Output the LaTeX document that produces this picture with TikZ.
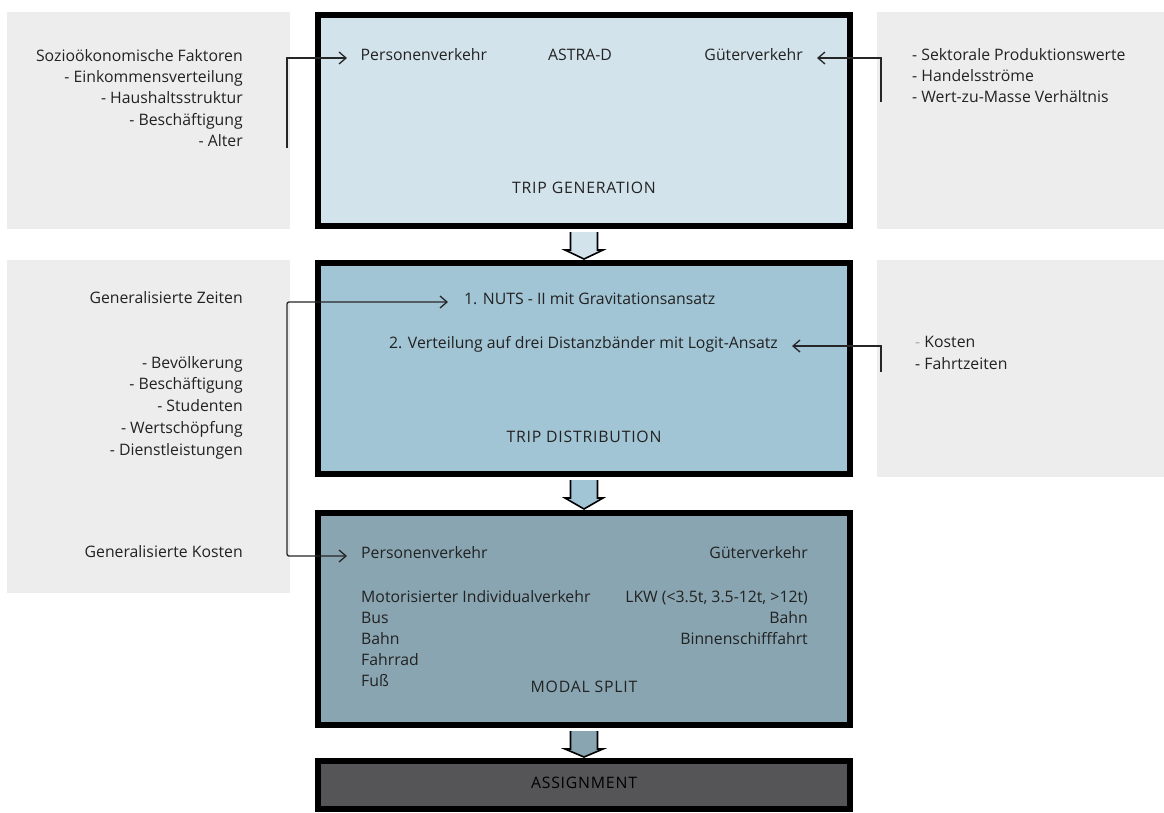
\documentclass[tikz,border=0pt]{standalone}
\usepackage{fontspec}
\setmainfont{Open Sans}
\usetikzlibrary{arrows.meta,calc}
\definecolor{cA}{HTML}{D3E3EB}
\definecolor{cB}{HTML}{A2C5D5}
\definecolor{cC}{HTML}{88A5B1}
\definecolor{cD}{HTML}{555558}
\definecolor{gr}{HTML}{EDEDED}
\definecolor{tx}{HTML}{222222}
\begin{document}
\begin{tikzpicture}[x=1pt,y=-1pt,
  txt/.style={inner sep=0pt, text=tx, font=\fontsize{15.8}{18}\selectfont},
  ttl/.style={inner sep=0pt, text=tx, font=\fontsize{15.8}{18}\selectfont\addfontfeature{LetterSpace=5}},
  graybox/.style={fill=gr, draw=none, inner sep=0pt},
  mainbox/.style={draw=black, line width=6pt, inner sep=0pt, minimum width=532pt},
  conn/.style={draw=black!85, line width=1.3pt},
  tip/.style={arrows={-Straight Barb[length=7pt,width=12pt]}},
  blockarrow/.style={draw=black, line width=1.6pt, line join=miter}]
\useasboundingbox (0,0) rectangle (1164,812);
\fill[white] (0,0) rectangle (1164,812);

% gray side panels
\node[graybox, minimum width=283pt, minimum height=217pt] (gL1) at (148.5,120.5) {};
\node[graybox, minimum width=287pt, minimum height=217pt] (gR1) at (1020.5,120.5) {};
\node[graybox, minimum width=283pt, minimum height=333pt] (gL2) at (148.5,426.5) {};
\node[graybox, minimum width=287pt, minimum height=217pt] (gR2) at (1020.5,368.5) {};

% main boxes
\node[mainbox, fill=cA, minimum height=211pt] (b1) at (584,120.5) {};
\node[mainbox, fill=cB, minimum height=211pt] (b2) at (584,368.5) {};
\node[mainbox, fill=cC, minimum height=212pt] (b3) at (584,619) {};
\node[mainbox, fill=cD, minimum height=48pt] (b4) at (584,785) {};

% block arrows
\foreach \a/\b/\c in {b1/b2/cA, b2/b3/cB, b3/b4/cC}{
  \filldraw[blockarrow, fill=\c]
    ($(\a.south)+(-13.5,3)$) -- ($(\a.south)+(-13.5,21)$) -- ($(\a.south)+(-19,21)$)
    -- ($(\b.north)+(0,-1)$) -- ($(\a.south)+(19,21)$) -- ($(\a.south)+(13.5,21)$)
    -- ($(\a.south)+(13.5,3)$);
}

% left texts, panel 1
\node[txt, anchor=mid east] (sf) at (243,59) {Sozioökonomische Faktoren};
\node[txt, anchor=mid east] (e1) at (243,80) {- Einkommensverteilung};
\node[txt, anchor=mid east] (e2) at (243,101) {- Haushaltsstruktur};
\node[txt, anchor=mid east] (e3) at (243,123) {- Beschäftigung};
\node[txt, anchor=mid east] (e4) at (243,144) {- Alter};

% right texts, panel 1
\node[txt, anchor=mid west] (p1) at (912,58) {- Sektorale Produktionswerte};
\node[txt, anchor=mid west] (p2) at (912,79) {- Handelsströme};
\node[txt, anchor=mid west] (p3) at (912,100) {- Wert-zu-Masse Verhältnis};

% box 1
\node[txt, anchor=mid west] (pv1) at (360.5,58) {Personenverkehr};
\node[txt, anchor=mid] (astra) at (580,58) {ASTRA-D};
\node[txt, anchor=mid east] (gv1) at (803,58) {Güterverkehr};
\node[ttl, anchor=mid] (tg) at (584,191) {TRIP GENERATION};

% left texts, panel 2
\node[txt, anchor=mid east] (gz) at (243,301) {Generalisierte Zeiten};
\node[txt, anchor=mid east] (v1) at (243,366) {- Bevölkerung};
\node[txt, anchor=mid east] (v2) at (243,387) {- Beschäftigung};
\node[txt, anchor=mid east] (v3) at (243,409) {- Studenten};
\node[txt, anchor=mid east] (v4) at (243,431) {- Wertschöpfung};
\node[txt, anchor=mid east] (v5) at (243,453) {- Dienstleistungen};
\node[txt, anchor=mid east] (gk) at (243,555) {Generalisierte Kosten};

% right texts, panel 2
\node[txt, anchor=mid west] (k1) at (915,345) {{\color{black!35}-} Kosten};
\node[txt, anchor=mid west] (k2) at (915,367) {- Fahrtzeiten};

% box 2
\node[txt, anchor=mid west] (nuts) at (464,302) {1. NUTS - II mit Gravitationsansatz};
\node[txt, anchor=mid west] (vert) at (389,346) {2. Verteilung auf drei Distanzbänder mit Logit-Ansatz};
\node[ttl, anchor=mid] (td) at (584,440) {TRIP DISTRIBUTION};

% box 3
\node[txt, anchor=mid west] (pv3) at (361,556) {Personenverkehr};
\node[txt, anchor=mid east] (gv3) at (808,556) {Güterverkehr};
\node[txt, anchor=mid west] (m1) at (361,600) {Motorisierter Individualverkehr};
\node[txt, anchor=mid west] (m2) at (361,621) {Bus};
\node[txt, anchor=mid west] (m3) at (361,642) {Bahn};
\node[txt, anchor=mid west] (m4) at (361,663) {Fahrrad};
\node[txt, anchor=mid west] (m5) at (361,684) {Fuß};
\node[txt, anchor=mid east] (r1) at (808,600) {LKW (<3.5t, 3.5-12t, >12t)};
\node[txt, anchor=mid east] (r2) at (808,621) {Bahn};
\node[txt, anchor=mid east] (r3) at (808,642) {Binnenschifffahrt};
\node[ttl, anchor=mid] (ms) at (584,690) {MODAL SPLIT};

% box 4
\node[ttl, anchor=mid, text=black] (asg) at (584,786) {ASSIGNMENT};

% connectors
\coordinate (c1) at (287,148);
\coordinate (c2) at (881,102);
\coordinate (c3) at (287,430);
\coordinate (c4) at (881,372);
\draw[conn, tip, shorten >=13.5pt] (c1) |- (pv1.mid west);
\draw[conn, tip, shorten >=14pt] (c2) |- (gv1.mid east);
\draw[conn, rounded corners=2pt, {Straight Barb[length=7pt,width=12pt]}-{Straight Barb[length=7pt,width=12pt]}, shorten <=16pt, shorten >=14pt]
  (nuts.mid west) -| (c3) |- (pv3.mid west);
\draw[conn, tip, shorten >=14pt] (c4) |- (vert.mid east);
\end{tikzpicture}
\end{document}
